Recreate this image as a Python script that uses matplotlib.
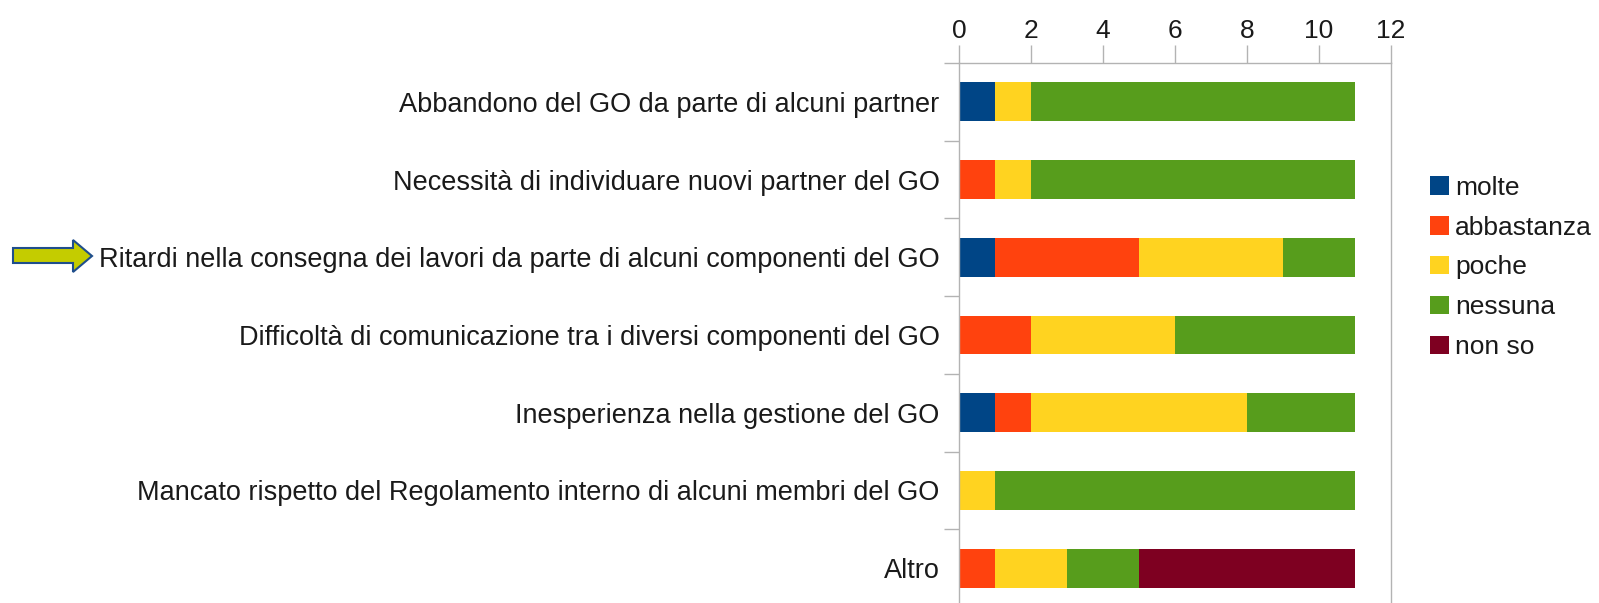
import matplotlib.pyplot as plt
import matplotlib.patches as mpatches
import numpy as np

plt.rcParams['font.family'] = ['Liberation Sans', 'DejaVu Sans']

categories = [
    "Abbandono del GO da parte di alcuni partner",
    "Necessità di individuare nuovi partner del GO",
    "Ritardi nella consegna dei lavori da parte di alcuni componenti del GO",
    "Difficoltà di comunicazione tra i diversi componenti del GO",
    "Inesperienza nella gestione del GO",
    "Mancato rispetto del Regolamento interno di alcuni membri del GO",
    "Altro",
]
series = ["molte", "abbastanza", "poche", "nessuna", "non so"]
molte = [1, 0, 1, 0, 1, 0, 0]
abbastanza = [0, 1, 4, 2, 1, 0, 1]
poche = [1, 1, 4, 4, 6, 1, 2]
nessuna = [9, 9, 2, 5, 3, 10, 2]
non_so = [0, 0, 0, 0, 0, 0, 6]
colors = ["#004586", "#ff420e", "#ffd320", "#579d1c", "#7e0021"]

W, H = 1599, 603
fig = plt.figure(figsize=(W / 100, H / 100), dpi=100)
ax = fig.add_axes([959 / W, -4 / H, (1391 - 959) / W, (603 - 63 + 4) / H])

y = np.arange(len(categories))
left = np.zeros(len(categories))
for name, vals, c in zip(series, [molte, abbastanza, poche, nessuna, non_so], colors):
    ax.barh(y, vals, left=left, height=0.5, color=c, label=name)
    left += np.array(vals)

ax.set_xlim(0, 12)
ax.set_ylim(len(categories) - 0.5, -0.5)
ax.set_xticks(range(0, 13, 2))
ax.xaxis.tick_top()
ax.tick_params(axis='x', which='major', direction='out', length=13, width=1,
               color='#b3b3b3', labelsize=19, labelcolor='#1a1a1a', pad=1.5)
ax.set_yticks(y)
ax.set_yticklabels(categories)
ax.set_yticks(np.arange(-0.5, len(categories), 1), minor=True)
ax.tick_params(axis='y', which='major', length=0, pad=14, labelsize=19.5, labelcolor='#1a1a1a')
ax.tick_params(axis='y', which='minor', length=11, width=1, color='#b3b3b3')
for s in ax.spines.values():
    s.set_color('#b3b3b3')
    s.set_linewidth(1)
ax.spines['bottom'].set_visible(False)

leg = ax.legend(loc='upper left', bbox_to_anchor=(1.066, 0.812), frameon=False,
                fontsize=19, handlelength=0.7, handleheight=0.7, handletextpad=0.25,
                labelspacing=0.6, borderaxespad=0)
for t in leg.get_texts():
    t.set_color('#1a1a1a')

# arrow pointing at the "Ritardi" label
pts = [(13, 248), (73, 248), (73, 240), (92, 256), (73, 272), (73, 263), (13, 263)]
arrow = mpatches.Polygon([(px / W, 1 - py / H) for px, py in pts], closed=True,
                         transform=fig.transFigure, facecolor='#c4cc00',
                         edgecolor='#1f4e8c', linewidth=1.5)
fig.add_artist(arrow)

fig.savefig('out.png', dpi=100)
